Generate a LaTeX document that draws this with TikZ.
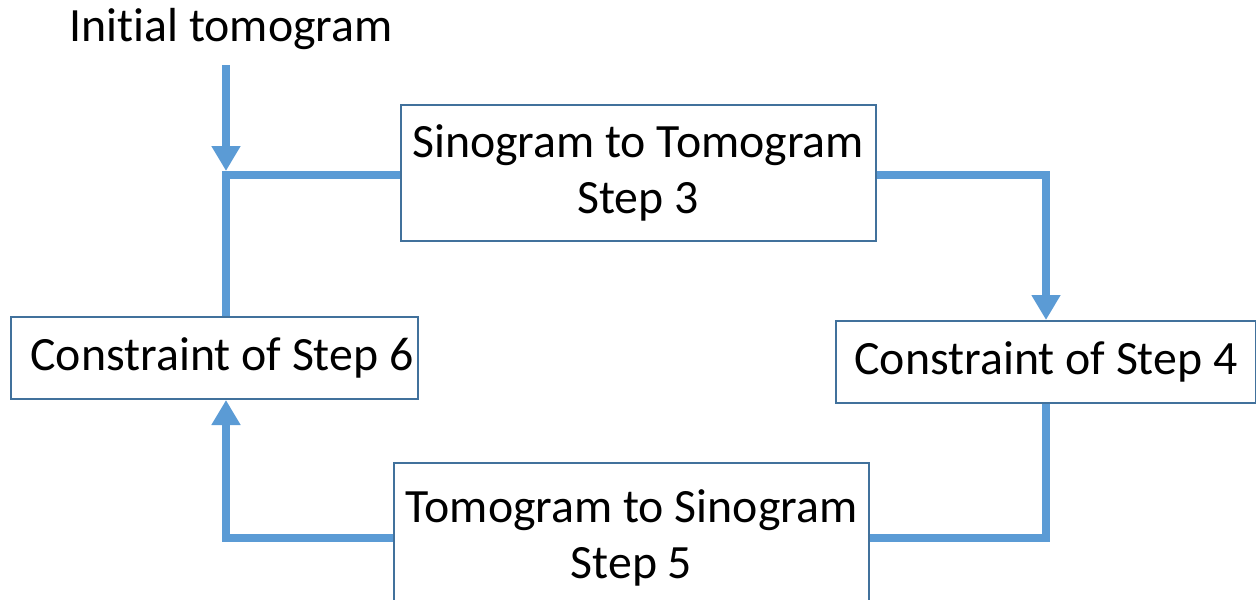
\documentclass[tikz,border=0pt]{standalone}
\usepackage{fontspec}
\setmainfont[Ligatures=NoCommon]{Carlito}
\usepackage{tikz}
\usetikzlibrary{arrows.meta}
\usetikzlibrary{calc}

\begin{document}
\begin{tikzpicture}
        \definecolor{flowblue}{HTML}{5B9BD5}
        \definecolor{boxedge}{HTML}{41719C}
        \tikzstyle{stepbox}=[rectangle,draw=boxedge,fill=white,line width=0.04cm,inner sep=0pt,align=center,font=\fontsize{27.2}{31.6}\selectfont]
        \tikzstyle{flow}=[draw=flowblue,line width=0.15cm]
        \tikzstyle{flowarrow}=[flow,-{Triangle[width=0.55cm,length=0.5cm]}]

        \useasboundingbox (0,0) rectangle (25.12,-11.98);
        \clip (0,0) rectangle (25.12,-11.98);

        % the four steps of the loop
        \node [stepbox, minimum width=9.5cm, minimum height=2.72cm] (s3) at (12.76,-3.46) {Sinogram to Tomogram\\Step 3};
        \node [stepbox, minimum width=8.4cm, minimum height=1.64cm] (c4) at (20.92,-7.24) {Constraint of Step 4};
        \node [stepbox, minimum width=9.5cm, minimum height=3.0cm] (s5) at (12.63,-10.76) {Tomogram to Sinogram\\Step 5};
        \node [stepbox, minimum width=8.14cm, minimum height=1.64cm] (c6) at (4.29,-7.16) {\hspace{0.3cm}Constraint of Step 6};

        \node [anchor=base, inner sep=0pt, font=\fontsize{27.2}{31.6}\selectfont] (it) at (4.62,-0.82) {Initial tomogram};
        \coordinate (in) at (4.52,-1.3);
        \coordinate (j) at (4.52,-3.5);

        % connectors
        \draw [flowarrow] (in) -- ($(j)+(0,0.08)$);
        \draw [flow] (s3.west |- j) -- (j) -- (j |- c6.north);
        \draw [flowarrow] (s3.east |- j) -| (c4.north);
        \draw [flow] (c4.south) |- (s5.east);
        \draw [flowarrow] (s5.west) -| (j |- c6.south);
    \end{tikzpicture}
\end{document}
